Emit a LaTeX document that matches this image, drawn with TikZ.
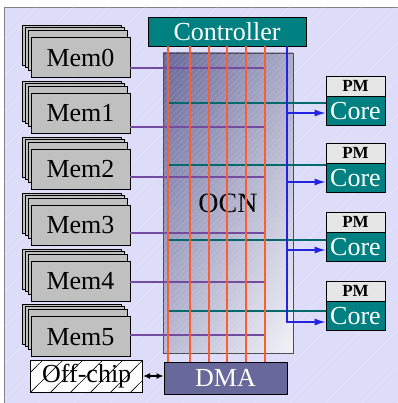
\documentclass[tikz,border=0pt]{standalone}
\usepackage{fontspec}
\setmainfont{Liberation Serif}
\usetikzlibrary{arrows.meta,positioning,shadows,shadings,patterns.meta}
\definecolor{bgblue}{RGB}{221,221,250}
\definecolor{framegray}{RGB}{130,130,140}
\definecolor{memgray}{RGB}{192,192,192}
\definecolor{pmgray}{RGB}{230,230,230}
\definecolor{tealbox}{RGB}{0,128,128}
\definecolor{dmablue}{RGB}{104,104,154}
\definecolor{memline}{RGB}{115,75,160}
\definecolor{pmline}{RGB}{0,105,110}
\definecolor{railred}{RGB}{250,95,50}
\definecolor{ctlblue}{RGB}{35,35,225}
\definecolor{ocnul}{RGB}{104,104,154}
\definecolor{ocnur}{RGB}{170,170,200}
\definecolor{ocnll}{RGB}{185,185,212}
\definecolor{ocnlr}{RGB}{242,242,248}

\tikzdeclarepattern{
  name=widehatch,
  type=uncolored,
  bounding box={(0pt,0pt) and (20pt,20pt)},
  tile size={(20pt,20pt)},
  code={\draw[line width=0.6pt] (-1pt,-1pt) -- (21pt,21pt);}
}
\tikzdeclarepattern{
  name=bgstripes,
  type=uncolored,
  bounding box={(0pt,0pt) and (36pt,36pt)},
  tile size={(36pt,36pt)},
  code={\draw[line width=0.5pt] (-1pt,-1pt) -- (37pt,37pt);}
}

\begin{document}
\begin{tikzpicture}[x=1pt, y=-1pt,
    big/.style={font=\fontsize{26}{28}\selectfont},
    mem/.style={rectangle, draw, line width=0.8pt, fill=memgray, minimum width=99pt, minimum height=40pt, inner sep=0pt, big,
      copy shadow={shadow xshift=-9pt, shadow yshift=12pt, fill=memgray, draw=black, line width=0.8pt},
      copy shadow={shadow xshift=-6pt, shadow yshift=10pt, fill=memgray, draw=black, line width=0.8pt},
      copy shadow={shadow xshift=-3pt, shadow yshift=7pt, fill=memgray, draw=black, line width=0.8pt}},
    ctrlbox/.style={rectangle, draw, line width=0.8pt, fill=tealbox, text=white, minimum width=158pt, minimum height=29pt, inner sep=0pt, big},
    ocnbox/.style={rectangle, draw=black!70, line width=0.8pt, shade, upper left=ocnul, upper right=ocnur, lower left=ocnll, lower right=ocnlr, minimum width=130pt, minimum height=300pt, inner sep=0pt, font=\fontsize{28}{30}\selectfont},
    dmabox/.style={rectangle, draw, line width=0.8pt, fill=dmablue, text=white, minimum width=123pt, minimum height=32pt, inner sep=0pt, big},
    offbox/.style={rectangle, draw, line width=0.8pt, fill=white, postaction={pattern={widehatch}, pattern color=black}, minimum width=112pt, minimum height=32pt, inner sep=0pt, big},
    pmbox/.style={rectangle, draw, line width=0.8pt, fill=pmgray, minimum width=59pt, minimum height=20pt, inner sep=0pt, font=\fontsize{17}{18}\selectfont\bfseries},
    corebox/.style={rectangle, draw, line width=0.8pt, fill=tealbox, text=white, minimum width=59pt, minimum height=29pt, inner sep=0pt, big},
    memlink/.style={memline, line width=1.2pt},
    pmlink/.style={pmline, line width=1.2pt},
    rail/.style={railred, line width=1.2pt},
    ctllink/.style={ctlblue, line width=1.2pt, -{Latex[length=11pt,width=7pt]}},
    bidir/.style={line width=1.5pt, {Latex[length=7pt,width=6pt]}-{Latex[length=7pt,width=6pt]}}
  ]
    \useasboundingbox (0,0) rectangle (397,403);
    \fill[white] (0,0) rectangle (397,403);
    \draw[framegray, line width=1pt, fill=bgblue] (4.5,7.5) rectangle (410,415);
    \fill[pattern={bgstripes}, pattern color=white, opacity=0.3] (5,8) rectangle (410,415);

    \foreach \i in {0,...,5}
      \node[mem] (mem\i) at (80.5,{57.7+55.8*\i}) {Mem\i};

    \node[ocnbox] (ocn) at (228,203) {OCN};
    \fill[pattern={Lines[angle=45,distance=4pt,line width=0.4pt]}, pattern color=white, opacity=0.25] (ocn.south west) rectangle (ocn.north east);

    \node[ctrlbox] (ctrl) at (227,31.5) {Controller};
    \node[dmabox] (dma) at (225.5,378) {DMA};
    \node[offbox] (off) at (86.7,376) {Off-chip};

    \node[pmbox] (pm0) at (355.5,86) {PM};
    \node[corebox, below=0pt of pm0] (core0) {Core};
    \node[pmbox] (pm1) at (355.5,153) {PM};
    \node[corebox, below=0pt of pm1] (core1) {Core};
    \node[pmbox] (pm2) at (355.5,222) {PM};
    \node[corebox, below=0pt of pm2] (core2) {Core};
    \node[pmbox] (pm3) at (355.5,291) {PM};
    \node[corebox, below=0pt of pm3] (core3) {Core};

    \foreach \i/\y in {0/68,1/127,2/177,3/233,4/282,5/335}
      \draw[memlink] (mem\i.east |- 0,\y) -- (265,\y);
    \foreach \i/\y in {0/103,1/165,2/240,3/311}
      \draw[pmlink] (168,\y) -- (core\i.west |- 0,\y);
    \foreach \x in {168,190,209,227,246,265}
      \draw[rail] (\x,0 |- ctrl.south) -- (\x,0 |- dma.north);
    \foreach \i/\y in {0/113,1/182,2/250,3/322}
      \draw[ctllink] (287,0 |- ctrl.south) |- (core\i.west |- 0,\y);

    \draw[bidir] (off.east) -- (off.east -| dma.west);
  \end{tikzpicture}
\end{document}
